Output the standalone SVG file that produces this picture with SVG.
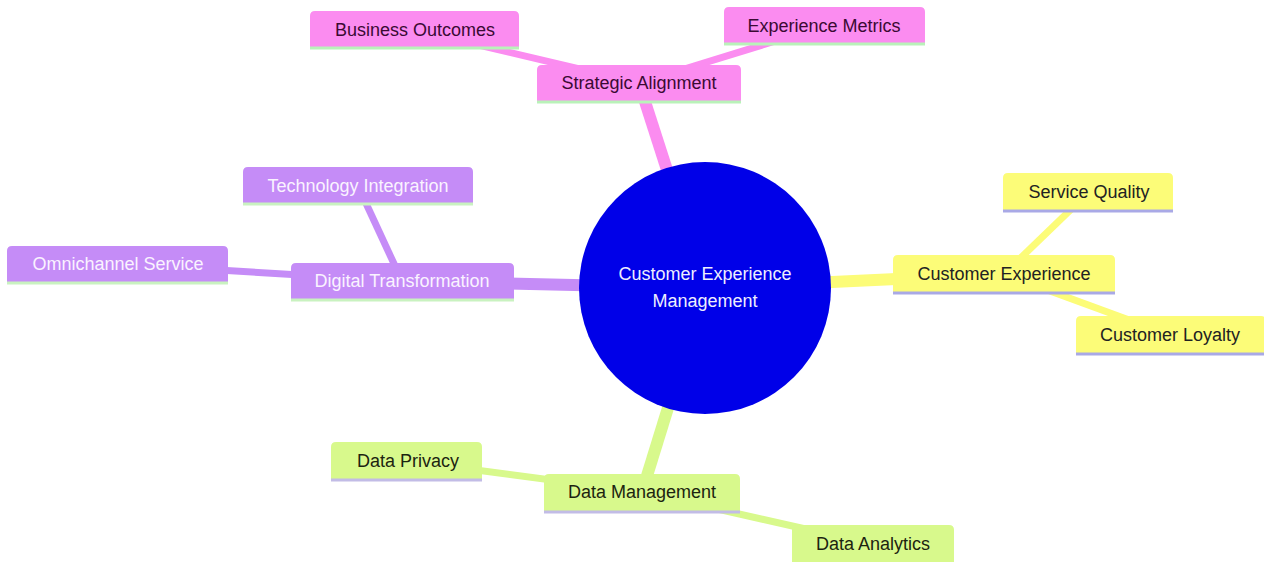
<svg xmlns="http://www.w3.org/2000/svg" width="1264" height="562" viewBox="0 0 1264 562">
<style>
text{font-family:"Liberation Sans",Arial,sans-serif;font-size:18px;text-anchor:middle}
.e1{stroke-width:12;stroke-linecap:butt;fill:none}
.e2{stroke-width:7;stroke-linecap:butt;fill:none}
.bl{stroke-width:3}
.s0 .bg{fill:#fb8cf0}.s0 .bl{stroke:#b9f2b9}.s0 text{fill:#3a0a33}.s0e{stroke:#fb8cf0}
.s1 .bg{fill:#c58cf7}.s1 .bl{stroke:#c9f2c0}.s1 text{fill:#faf3ff}.s1e{stroke:#c58cf7}
.s2 .bg{fill:#fcfc78}.s2 .bl{stroke:#a9a9e6}.s2 text{fill:#222222}.s2e{stroke:#fcfc78}
.s3 .bg{fill:#d8f98c}.s3 .bl{stroke:#c2bce6}.s3 text{fill:#1c2410}.s3e{stroke:#d8f98c}
</style>
<g id="connectors">
<line class="e1 s0e" x1="705" y1="288" x2="639" y2="83"/>
<line class="e2 s0e" x1="415" y1="30" x2="639" y2="83"/>
<line class="e2 s0e" x1="824" y1="26" x2="639" y2="83"/>
<line class="e1 s1e" x1="705" y1="288" x2="402" y2="281"/>
<line class="e2 s1e" x1="358" y1="186" x2="402" y2="281"/>
<line class="e2 s1e" x1="118" y1="264" x2="402" y2="281"/>
<line class="e1 s2e" x1="705" y1="288" x2="1004" y2="274"/>
<line class="e2 s2e" x1="1089" y1="192" x2="1004" y2="274"/>
<line class="e2 s2e" x1="1170" y1="335" x2="1004" y2="274"/>
<line class="e1 s3e" x1="705" y1="288" x2="642" y2="492"/>
<line class="e2 s3e" x1="408" y1="461" x2="642" y2="492"/>
<line class="e2 s3e" x1="872" y1="544" x2="642" y2="492"/>
</g>
<g id="root">
<circle cx="705" cy="288" r="126" fill="#0000e8"/>
<text x="705" y="280" fill="#eeeeff">Customer Experience</text>
<text x="705" y="307" fill="#eeeeff">Management</text>
</g>
<g id="strategic-alignment" class="s0">
<path class="bg" d="M537,102 v-32 q0,-5 5,-5 h194 q5,0 5,5 v32 Z"/>
<line class="bl" x1="537" y1="102" x2="741" y2="102"/>
<text x="639" y="89">Strategic Alignment</text>
</g>
<g id="business-outcomes" class="s0">
<path class="bg" d="M310,48 v-32 q0,-5 5,-5 h199 q5,0 5,5 v32 Z"/>
<line class="bl" x1="310" y1="48" x2="519" y2="48"/>
<text x="415" y="36">Business Outcomes</text>
</g>
<g id="experience-metrics" class="s0">
<path class="bg" d="M724,44 v-32 q0,-5 5,-5 h191 q5,0 5,5 v32 Z"/>
<line class="bl" x1="724" y1="44" x2="925" y2="44"/>
<text x="824" y="32">Experience Metrics</text>
</g>
<g id="digital-transformation" class="s1">
<path class="bg" d="M291,300 v-32 q0,-5 5,-5 h213 q5,0 5,5 v32 Z"/>
<line class="bl" x1="291" y1="300" x2="514" y2="300"/>
<text x="402" y="287">Digital Transformation</text>
</g>
<g id="technology-integration" class="s1">
<path class="bg" d="M243,204 v-32 q0,-5 5,-5 h220 q5,0 5,5 v32 Z"/>
<line class="bl" x1="243" y1="204" x2="473" y2="204"/>
<text x="358" y="192">Technology Integration</text>
</g>
<g id="omnichannel-service" class="s1">
<path class="bg" d="M7,283 v-32 q0,-5 5,-5 h211 q5,0 5,5 v32 Z"/>
<line class="bl" x1="7" y1="283" x2="228" y2="283"/>
<text x="118" y="270">Omnichannel Service</text>
</g>
<g id="customer-experience" class="s2">
<path class="bg" d="M893,293 v-33 q0,-5 5,-5 h212 q5,0 5,5 v33 Z"/>
<line class="bl" x1="893" y1="293" x2="1115" y2="293"/>
<text x="1004" y="280">Customer Experience</text>
</g>
<g id="service-quality" class="s2">
<path class="bg" d="M1003,211 v-33 q0,-5 5,-5 h160 q5,0 5,5 v33 Z"/>
<line class="bl" x1="1003" y1="211" x2="1173" y2="211"/>
<text x="1089" y="198">Service Quality</text>
</g>
<g id="customer-loyalty" class="s2">
<path class="bg" d="M1076,354 v-33 q0,-5 5,-5 h180 q5,0 5,5 v33 Z"/>
<line class="bl" x1="1076" y1="354" x2="1266" y2="354"/>
<text x="1170" y="341">Customer Loyalty</text>
</g>
<g id="data-management" class="s3">
<path class="bg" d="M544,512 v-33 q0,-5 5,-5 h186 q5,0 5,5 v33 Z"/>
<line class="bl" x1="544" y1="512" x2="740" y2="512"/>
<text x="642" y="498">Data Management</text>
</g>
<g id="data-privacy" class="s3">
<path class="bg" d="M331,480 v-33 q0,-5 5,-5 h141 q5,0 5,5 v33 Z"/>
<line class="bl" x1="331" y1="480" x2="482" y2="480"/>
<text x="408" y="467">Data Privacy</text>
</g>
<g id="data-analytics" class="s3">
<path class="bg" d="M792,562 v-32 q0,-5 5,-5 h152 q5,0 5,5 v32 Z"/>
<text x="873" y="550">Data Analytics</text>
</g>
</svg>
